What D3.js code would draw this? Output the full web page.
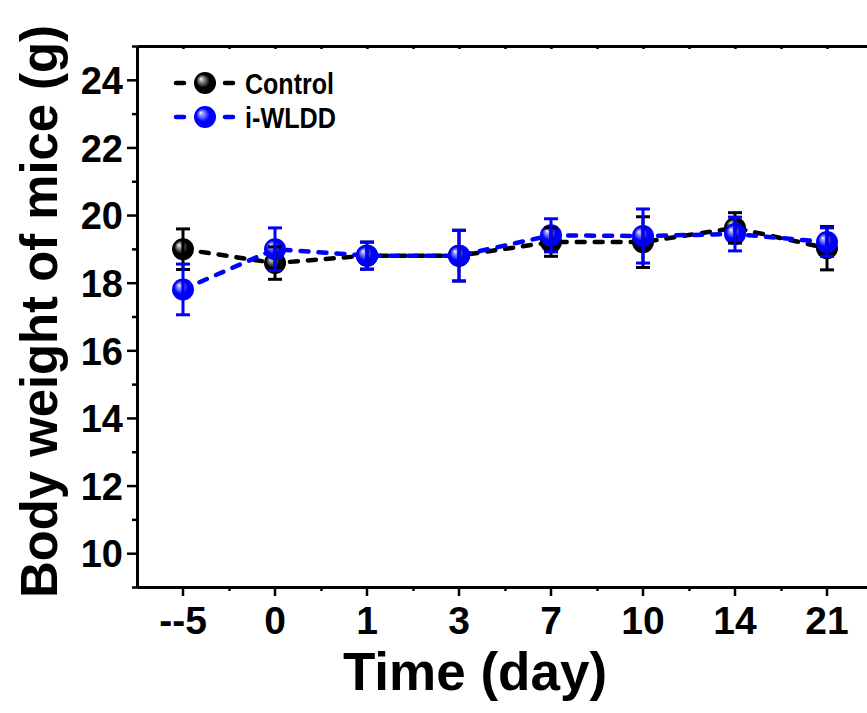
<!DOCTYPE html>
<html>
<head>
<meta charset="utf-8">
<script src="https://cdn.jsdelivr.net/npm/d3@7"></script>
<style>
  body { margin: 0; background: #fff; }
  text { font-family: "Liberation Sans", Arial, sans-serif; font-weight: bold; }
</style>
</head>
<body>
<script>
// chart data
var days = ["-5", "0", "1", "3", "7", "10", "14", "21"];
var dayLabels = ["--5", "0", "1", "3", "7", "10", "14", "21"];
var control = [18.99, 18.58, 18.8, 18.8, 19.2, 19.2, 19.62, 19.02];
var controlErr = [0.6, 0.48, 0.4, 0.75, 0.42, 0.75, 0.45, 0.64];
var wldd = [17.8, 18.99, 18.8, 18.8, 19.4, 19.38, 19.44, 19.2];
var wlddErr = [0.75, 0.63, 0.4, 0.75, 0.49, 0.8, 0.5, 0.42];
var yMajor = [10, 12, 14, 16, 18, 20, 22, 24];
var yMinor = [9, 11, 13, 15, 17, 19, 21, 23, 25];
var seriesNames = ["Control", "i-WLDD"];

var width = 867;
var height = 713;
// plot box (right edge sits just outside the window, as in the figure)
var plotLeft = 137, plotRight = 873, plotTop = 46, plotBottom = 587;
var r = 11;

var svg = d3.select('body').append('svg').attr('width', width).attr('height', height);

var x = d3.scaleBand().domain(days).range([plotLeft, plotRight]);
var xMid = function (d) { return x(d) + x.bandwidth() / 2; };
var xEdge = d3.scaleLinear().domain([0, days.length]).range([plotLeft, plotRight]);
var y = d3.scaleLinear().domain([9, 25]).range([plotBottom, plotTop]);

// sphere gradients
var defs = svg.append('defs');
function sphere(id, hi, base) {
  var g = defs.append('radialGradient').attr('id', id)
    .attr('cx', '0.5').attr('cy', '0.5').attr('r', '0.55')
    .attr('fx', '0.3').attr('fy', '0.3');
  g.append('stop').attr('offset', '0%').attr('stop-color', '#fff');
  g.append('stop').attr('offset', '12%').attr('stop-color', hi);
  g.append('stop').attr('offset', '55%').attr('stop-color', base);
  g.append('stop').attr('offset', '100%').attr('stop-color', base);
}
sphere('ballBlack', '#bbb', '#000');
sphere('ballBlue', '#aab0ff', '#0000ff');

var series = [
  { name: seriesNames[0], values: control, err: controlErr, color: '#000', fill: 'url(#ballBlack)' },
  { name: seriesNames[1], values: wldd, err: wlddErr, color: '#0000ff', fill: 'url(#ballBlue)' }
];

// axes
function styleAxis(g) {
  g.selectAll('path.domain').attr('stroke', '#000').attr('stroke-width', 3);
  g.selectAll('.tick line').attr('stroke', '#000').attr('stroke-width', 2.5);
}

svg.append('g').attr('transform', 'translate(' + plotLeft + ',0)')
  .call(d3.axisLeft(y).tickValues(yMinor).tickSize(5).tickSizeOuter(0).tickFormat(''))
  .call(styleAxis);
var yAx = svg.append('g').attr('transform', 'translate(' + plotLeft + ',0)')
  .call(d3.axisLeft(y).tickValues(yMajor).tickSize(10).tickSizeOuter(0).tickPadding(4))
  .call(styleAxis);
yAx.selectAll('text').attr('font-size', 38).attr('fill', '#000').attr('dy', '0.36em');

svg.append('g').attr('transform', 'translate(' + plotRight + ',0)')
  .call(d3.axisRight(y).tickValues(yMinor.concat(yMajor)).tickSize(-4).tickSizeOuter(0).tickFormat(''))
  .call(styleAxis);

svg.append('g').attr('transform', 'translate(0,' + plotBottom + ')')
  .call(d3.axisBottom(xEdge).tickValues(d3.range(1, days.length)).tickSize(4).tickSizeOuter(0).tickFormat(''))
  .call(styleAxis);
var xAx = svg.append('g').attr('transform', 'translate(0,' + plotBottom + ')')
  .call(d3.axisBottom(x).tickSize(9).tickSizeOuter(0).tickPadding(10)
    .tickFormat(function (d, i) { return dayLabels[i]; }))
  .call(styleAxis);
xAx.selectAll('text').attr('font-size', 39).attr('fill', '#000').attr('dy', '0.71em');

svg.append('g').attr('transform', 'translate(0,' + plotTop + ')')
  .call(d3.axisTop(xEdge).tickValues(d3.range(0.5, days.length, 0.5)).tickSize(-3).tickSizeOuter(0).tickFormat(''))
  .call(styleAxis);

// axis titles
svg.append('text').attr('x', 475).attr('y', 690)
  .attr('text-anchor', 'middle').attr('font-size', 53).text('Time (day)');
svg.append('text').attr('transform', 'translate(57,598) rotate(-90)')
  .attr('text-anchor', 'start').attr('font-size', 52)
  .attr('textLength', 573).attr('lengthAdjust', 'spacingAndGlyphs')
  .text('Body weight of mice (g)');

// dashed lines
var line = d3.line()
  .x(function (d, i) { return xMid(days[i]); })
  .y(function (d) { return y(d); });

svg.append('g').selectAll('path').data(series).enter().append('path')
  .attr('d', function (s) { return line(s.values); })
  .attr('fill', 'none')
  .attr('stroke', function (s) { return s.color; })
  .attr('stroke-width', 4.5)
  .attr('stroke-linecap', 'round')
  .attr('stroke-dasharray', '8 10');

// markers then error bars for each series
series.forEach(function (s) {
  svg.append('g').selectAll('circle').data(s.values).enter().append('circle')
    .attr('cx', function (d, i) { return xMid(days[i]); })
    .attr('cy', function (d) { return y(d); })
    .attr('r', r)
    .attr('fill', s.fill);
});

series.forEach(function (s) {
  var eb = svg.append('g').attr('stroke', s.color).attr('stroke-width', 3);
  s.values.forEach(function (v, i) {
    var cx = xMid(days[i]);
    var hi = y(v + s.err[i]), lo = y(v - s.err[i]);
    eb.append('line').attr('x1', cx).attr('x2', cx).attr('y1', hi).attr('y2', lo);
    eb.append('line').attr('x1', cx - 7).attr('x2', cx + 7).attr('y1', hi).attr('y2', hi);
    eb.append('line').attr('x1', cx - 7).attr('x2', cx + 7).attr('y1', lo).attr('y2', lo);
  });
});

// legend
var legend = svg.append('g').selectAll('g').data(series).enter().append('g')
  .attr('transform', function (s, i) { return 'translate(0,' + (83 + i * 34) + ')'; });
legend.append('line').attr('x1', 176).attr('x2', 184).attr('y1', 0).attr('y2', 0)
  .attr('stroke', function (s) { return s.color; }).attr('stroke-width', 4.5).attr('stroke-linecap', 'round');
legend.append('line').attr('x1', 225).attr('x2', 233).attr('y1', 0).attr('y2', 0)
  .attr('stroke', function (s) { return s.color; }).attr('stroke-width', 4.5).attr('stroke-linecap', 'round');
legend.append('circle').attr('cx', 205).attr('cy', 0).attr('r', r)
  .attr('fill', function (s) { return s.fill; });
legend.append('text').attr('x', 245).attr('y', 11).attr('font-size', 29)
  .attr('textLength', function (s, i) { return i == 0 ? 89 : 91; })
  .attr('lengthAdjust', 'spacingAndGlyphs')
  .text(function (s) { return s.name; });
</script>
</body>
</html>
